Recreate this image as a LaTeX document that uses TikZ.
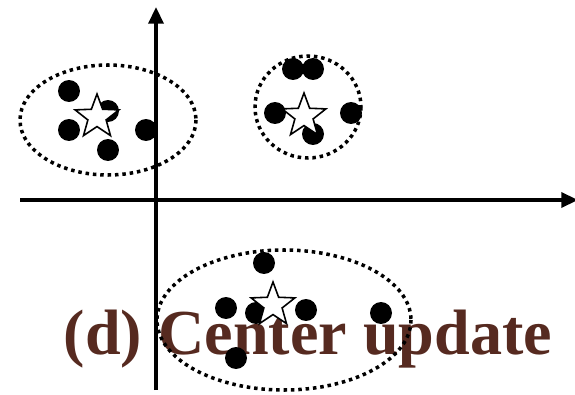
\documentclass[tikz,border=0pt]{standalone}
\usepackage{fontspec}
\setmainfont{Liberation Serif}
\usetikzlibrary{arrows.meta,shapes.geometric}
\definecolor{capbrown}{RGB}{86,42,32}
\tikzset{
  axis/.style={line width=2pt,-{Triangle[length=9.5pt,width=8.5pt]}},
  cluster/.style={line width=2pt,dash pattern=on 2pt off 2.2pt},
  pt/.style={circle,fill=black,inner sep=0pt,minimum size=0.44cm},
  centre/.style={star,star points=5,star point ratio=2.4,draw=black,line width=0.9pt,fill=white,inner sep=0pt,minimum size=0.92cm},
  caption/.style={font=\fontsize{36.5}{40}\selectfont\bfseries,text=capbrown,anchor=base,inner sep=0pt}
}
\begin{document}
\begin{tikzpicture}[x=0.02cm,y=-0.02cm]
\useasboundingbox (0,0) rectangle (575,395);
% caption
\node[caption] (cap) at (308,354) {(d) Center update};
% axes
\coordinate (xs) at (20,200);
\coordinate (xe) at (578,200);
\coordinate (ys) at (156,390);
\coordinate (ye) at (156,7);
\draw[axis] (xs) -- (xe);
\draw[axis] (ys) -- (ye);
% clusters
\draw[cluster] (108,120) ellipse [x radius=88,y radius=55];
\draw[cluster] (308,107) ellipse [x radius=53,y radius=51];
\draw[cluster] (284,320) ellipse [x radius=127,y radius=70];
% left cluster points
\node[pt] (a1) at (69,91) {};
\node[pt] (a2) at (108,111) {};
\node[pt] (a3) at (69,130) {};
\node[pt] (a4) at (108,150) {};
\node[pt] (a5) at (146,130) {};
\node[centre] (ca) at (97,117) {};
% right cluster points
\node[pt] (b1) at (293,69) {};
\node[pt] (b2) at (313,69) {};
\node[pt] (b3) at (275,113) {};
\node[pt] (b4) at (313,134) {};
\node[pt] (b5) at (351,113) {};
\node[centre] (cb) at (304,116) {};
% bottom cluster points
\node[pt] (c1) at (264,263) {};
\node[pt] (c2) at (226,308) {};
\node[pt] (c3) at (256,313) {};
\node[pt] (c4) at (306,310) {};
\node[pt] (c5) at (381,313) {};
\node[pt] (c6) at (236,358) {};
\node[centre] (cc) at (273,305) {};
\end{tikzpicture}
\end{document}
